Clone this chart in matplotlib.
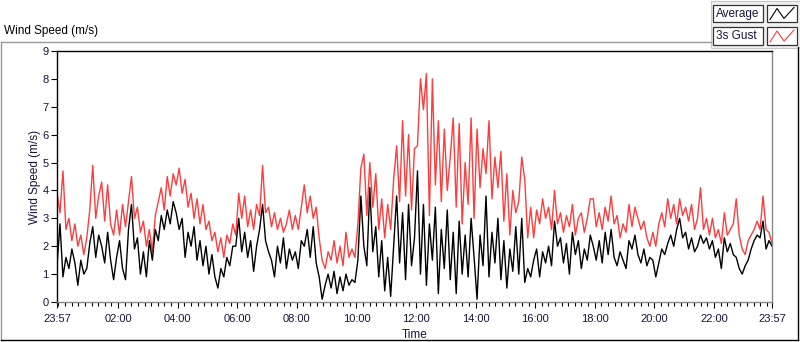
import numpy as np
import matplotlib
matplotlib.use("Agg")
import matplotlib.pyplot as plt
from matplotlib.lines import Line2D
from matplotlib.patches import Rectangle

# one sample every 6 minutes, starting 23:57
step_min = 6

gust = [
    3.9, 3.2, 4.7, 2.6, 3.0, 2.2, 2.8, 2.0, 2.4, 1.7, 2.3, 3.3, 4.9, 3.0, 3.8, 4.3, 2.9, 4.2, 2.8, 2.4,
    3.3, 2.4, 3.5, 2.7, 3.6, 4.5, 3.0, 3.4, 2.5, 2.9, 2.0, 2.6, 1.8, 3.1, 3.6, 4.1, 3.3, 4.5, 3.8, 4.6,
    4.2, 4.8, 3.9, 4.4, 3.4, 3.9, 3.0, 3.7, 2.8, 3.5, 2.6, 2.9, 2.2, 2.5, 1.8, 2.3, 1.6, 2.4, 2.1, 2.8,
    2.4, 3.9, 3.0, 3.8, 2.7, 3.3, 2.6, 3.5, 3.1, 4.9, 3.2, 3.4, 2.7, 3.2, 2.6, 3.0, 2.5, 2.8, 3.3, 2.6,
    3.1, 2.6, 3.4, 4.2, 3.2, 3.8, 3.0, 3.4, 2.3, 1.5, 1.2, 1.8, 1.5, 2.2, 1.4, 2.0, 1.3, 2.5, 1.6, 1.9,
    1.6, 2.8, 4.8, 5.3, 3.1, 5.0, 3.4, 4.6, 2.6, 3.7, 2.3, 3.5, 2.6, 4.4, 5.6, 3.6, 6.5, 3.8, 6.0, 3.3,
    5.5, 5.6, 8.0, 6.9, 8.2, 3.1, 8.0, 4.2, 6.5, 3.6, 6.2, 4.0, 5.2, 6.6, 3.4, 6.4, 2.8, 5.0, 3.5, 6.6,
    3.0, 6.2, 4.1, 5.5, 4.6, 6.5, 3.7, 5.2, 4.1, 5.4, 2.9, 4.6, 2.4, 4.0, 3.2, 3.6, 5.2, 4.4, 2.3, 3.4,
    2.3, 3.3, 2.8, 3.7, 3.0, 3.4, 2.6, 4.0, 2.8, 3.2, 2.5, 3.1, 2.7, 3.5, 2.4, 3.0, 3.2, 2.5, 3.0, 3.7,
    3.7, 2.7, 3.2, 2.6, 3.4, 2.9, 3.8, 2.8, 3.1, 2.3, 2.8, 2.5, 3.5, 2.7, 3.4, 3.0, 2.6, 2.9, 2.3, 2.0,
    2.5, 2.0, 2.8, 3.2, 2.7, 3.7, 3.0, 3.5, 2.8, 3.7, 3.1, 3.4, 2.9, 3.5, 2.6, 3.0, 4.1, 2.6, 3.0, 2.4,
    3.0, 2.3, 2.6, 2.1, 3.2, 2.4, 2.6, 2.8, 3.7, 2.4, 1.9, 1.7, 2.2, 2.4, 2.6, 2.9, 2.6, 3.8, 2.6, 2.5, 2.1,
]

average = [
    1.3, 2.8, 0.9, 1.6, 1.2, 1.9, 1.4, 0.6, 1.5, 1.0, 1.2, 2.1, 2.7, 1.6, 2.4, 2.0, 1.4, 2.5, 1.5, 0.8,
    1.6, 2.2, 1.2, 0.8, 2.6, 3.5, 1.9, 2.3, 1.0, 1.8, 0.9, 2.2, 1.5, 2.6, 2.2, 3.1, 2.6, 3.3, 2.8, 3.6,
    3.2, 2.6, 3.0, 1.6, 2.5, 2.0, 2.7, 1.5, 2.2, 1.3, 2.0, 1.0, 1.7, 0.9, 0.5, 1.2, 0.9, 1.6, 1.3, 2.0,
    2.0, 3.0, 1.8, 2.5, 1.6, 2.2, 1.1, 2.0, 2.6, 3.5, 2.2, 1.8, 1.5, 0.9, 2.0, 1.4, 2.3, 1.2, 1.9, 1.5,
    1.8, 1.2, 2.2, 2.0, 2.6, 1.6, 2.7, 1.4, 0.9, 0.1, 0.6, 1.0, 0.5, 1.1, 0.3, 0.9, 0.4, 1.0, 0.6, 0.8,
    0.7, 1.5, 3.8, 2.0, 1.3, 4.1, 1.8, 2.7, 0.9, 2.2, 0.4, 1.6, 0.2, 2.0, 3.8, 1.4, 3.2, 0.8, 3.5, 1.3,
    2.3, 4.7, 1.0, 3.5, 0.6, 2.8, 1.5, 3.4, 0.3, 2.6, 1.2, 3.3, 0.8, 2.5, 0.3, 2.9, 1.0, 2.4, 0.9, 3.0,
    1.6, 0.1, 2.4, 1.3, 3.8, 0.9, 2.5, 1.4, 3.0, 0.8, 2.2, 0.5, 1.9, 1.1, 2.7, 1.0, 3.0, 0.7, 1.2, 0.9,
    1.5, 1.9, 0.9, 1.8, 1.4, 2.0, 1.3, 2.9, 2.0, 2.3, 1.4, 2.1, 1.0, 2.5, 1.7, 2.2, 1.2, 1.9, 1.5, 2.4,
    2.0, 1.5, 2.2, 1.4, 2.5, 1.7, 2.6, 1.6, 1.3, 1.8, 1.5, 1.2, 2.2, 1.9, 2.4, 1.7, 1.4, 1.9, 1.3, 1.6,
    1.5, 0.9, 1.4, 1.9, 1.7, 2.1, 2.4, 2.0, 2.6, 3.0, 2.3, 2.5, 1.9, 2.3, 1.8, 2.0, 2.4, 2.1, 2.3, 1.9,
    2.2, 1.6, 1.9, 1.2, 2.3, 1.8, 2.1, 1.7, 1.6, 1.2, 1.0, 1.3, 1.5, 1.9, 2.2, 2.4, 2.3, 2.9, 1.9, 2.2, 2.0,
]

tick_pos = [0, 123, 243, 363, 483, 603, 723, 843, 963, 1083, 1203, 1323, 1440]
tick_labels = ["23:57", "02:00", "04:00", "06:00", "08:00", "10:00", "12:00",
               "14:00", "16:00", "18:00", "20:00", "22:00", "23:57"]

t = np.arange(len(gust)) * step_min

plt.rcParams['font.family'] = ['Liberation Sans', 'DejaVu Sans']
navy = '#14143c'

fig = plt.figure(figsize=(8, 3.42), dpi=100)
W, H = 800, 342

def fx(px):
    return px / W

def fy(py):
    return 1 - py / H

ax = fig.add_axes([fx(57), fy(302), fx(772) - fx(57), fy(51) - fy(302)])
ax.plot(t, gust, color='#ff3c3c', lw=1.0)
ax.plot(t, average, color='black', lw=1.0)

ax.set_xlim(0, 1440)
ax.set_ylim(0, 9)
ax.set_yticks(range(10))
ax.set_xticks(tick_pos)
ax.set_xticklabels(tick_labels)
ax.set_xticks(3 + np.arange(0, 108) * 40 / 3, minor=True)
ax.tick_params(axis='both', which='major', labelsize=8, labelcolor=navy,
               direction='out', length=4, width=0.8, pad=2)
ax.tick_params(axis='x', which='major', pad=5)
ax.tick_params(axis='x', which='minor', direction='out', length=3, width=0.8)
ax.set_xlabel("Time", fontsize=8.5, color=navy, labelpad=3)
ax.set_ylabel("Wind Speed (m/s)", fontsize=8.5, color=navy, labelpad=1)

ax.spines['left'].set_color('black')
ax.spines['top'].set_color('black')
ax.spines['right'].set_color('#888888')
ax.spines['bottom'].set_color('#888888')
for s in ax.spines.values():
    s.set_linewidth(1.0)

# graph title
fig.text(fx(4), fy(31), "Wind Speed (m/s)", fontsize=8.5, color='black',
         va='center', ha='left')

# outer frame
fig.add_artist(Line2D([fx(1), fx(1)], [fy(42), fy(340)], color='#999999', lw=1))
fig.add_artist(Line2D([fx(1), fx(711)], [fy(42), fy(42)], color='#999999', lw=1))
fig.add_artist(Line2D([fx(798), fx(798)], [fy(47), fy(340)], color='black', lw=1))
fig.add_artist(Line2D([fx(1), fx(798)], [fy(340), fy(340)], color='black', lw=1))

# legend panel
fig.add_artist(Rectangle((fx(711), fy(48)), fx(89), fy(1) - fy(48),
                         facecolor='#f0f0f0', edgecolor='#c8c8c8', lw=0.8))
legend_items = [("Average", 'black', 13.5), ("3s Gust", '#ff3c3c', 36)]
for name, col, cy in legend_items:
    fig.add_artist(Rectangle((fx(713), fy(cy + 8.5)), fx(50), fy(cy - 8.5) - fy(cy + 8.5),
                             facecolor='white', edgecolor='#333333', lw=0.9))
    fig.text(fx(716), fy(cy), name, fontsize=8.5, color=navy, va='center', ha='left')
    fig.add_artist(Rectangle((fx(767), fy(cy + 8.5)), fx(30), fy(cy - 8.5) - fy(cy + 8.5),
                             facecolor='white', edgecolor='#333333', lw=0.9))
    zx = [fx(770), fx(777), fx(784), fx(794)]
    zy = [fy(cy + 6), fy(cy - 5), fy(cy + 5), fy(cy - 6)]
    fig.add_artist(Line2D(zx, zy, color=col, lw=0.8))

fig.savefig("out.png", dpi=100)
